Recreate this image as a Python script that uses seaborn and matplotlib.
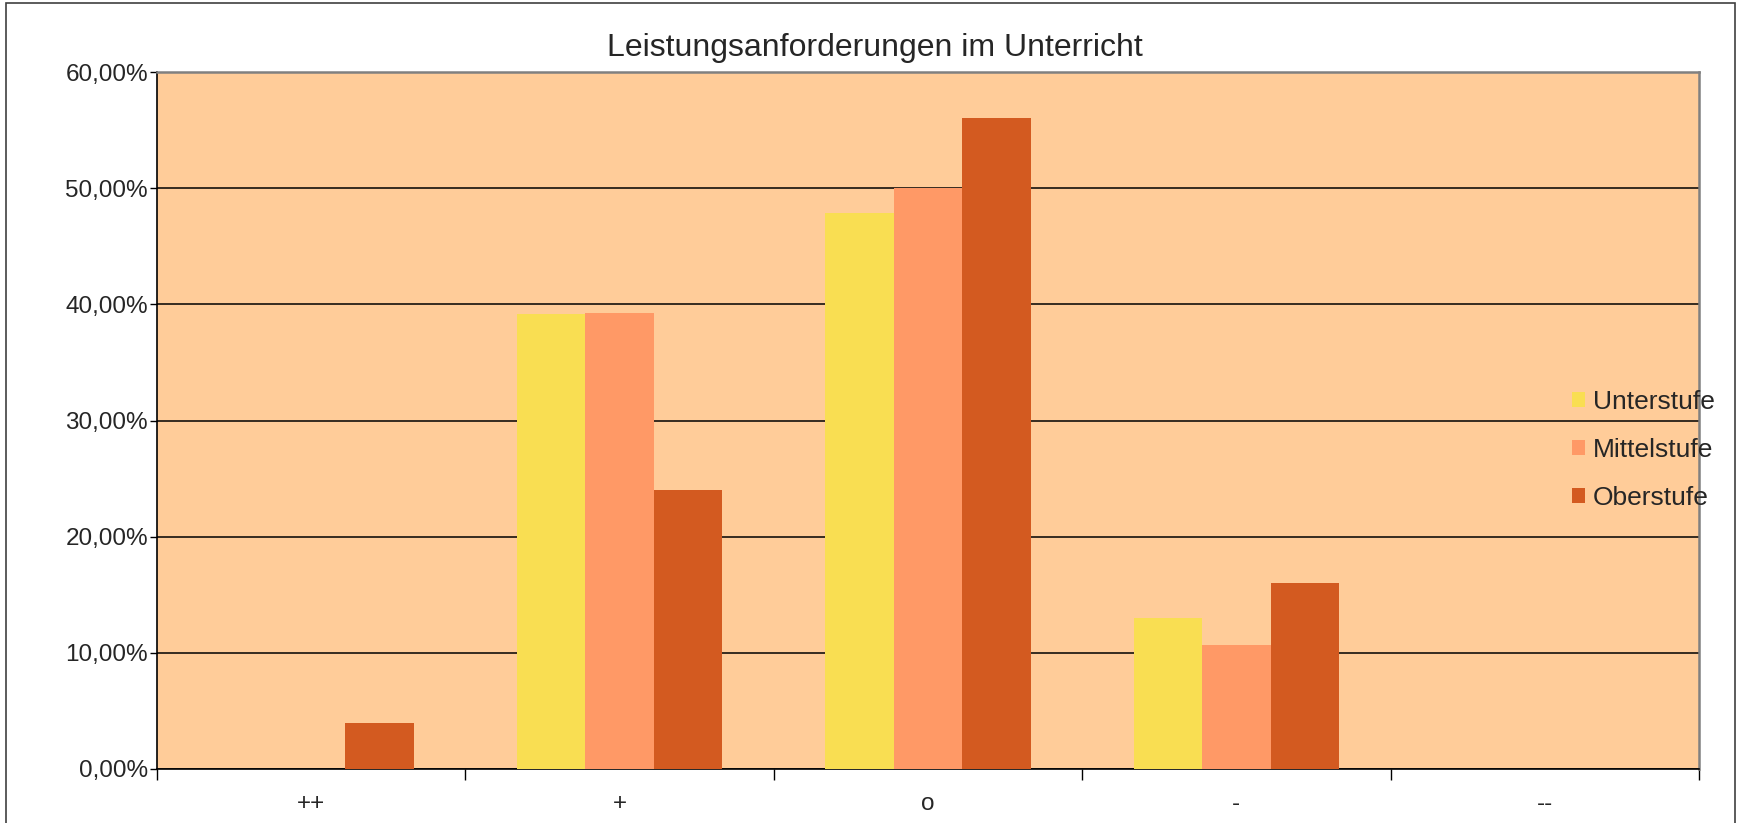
import numpy as np
import pandas as pd
import matplotlib
matplotlib.use("Agg")
import matplotlib.pyplot as plt
from matplotlib.patches import Rectangle
from matplotlib.ticker import FuncFormatter, FixedLocator
import seaborn as sns

# values (share of answers)
categories = ["++", "+", "o", "-", "--"]
stufen = ["Unterstufe", "Mittelstufe", "Oberstufe"]
unterstufe = [0.0, 0.3913, 0.4783, 0.1304, 0.0]
mittelstufe = [0.0, 0.3929, 0.5000, 0.1071, 0.0]
oberstufe = [0.04, 0.24, 0.56, 0.16, 0.0]
colors = ["#F9DE52", "#FF9966", "#D35A20"]

df = pd.DataFrame({
    "kat": categories * 3,
    "stufe": np.repeat(stufen, len(categories)),
    "wert": unterstufe + mittelstufe + oberstufe,
})

sns.set_style("white")
plt.rcParams["font.family"] = ["Liberation Sans", "DejaVu Sans"]

fig = plt.figure(figsize=(17.41, 8.23), dpi=100)
ax = fig.add_axes([157 / 1741, 1 - 769 / 823, (1699 - 157) / 1741, (769 - 72) / 823])
ax.set_facecolor("#FFCC99")

sns.barplot(data=df, x="kat", y="wert", hue="stufe", order=categories,
            hue_order=stufen, palette=colors, saturation=1, width=0.667, gap=0,
            linewidth=0, ax=ax, zorder=3)

# outer chart border
fig.patches.append(Rectangle((6 / 1741, -0.05), 1729 / 1741, 1.05 - 3 / 823,
                             transform=fig.transFigure, fill=False,
                             edgecolor="#404040", linewidth=1.2))

ax.set_ylim(0, 0.6)
ax.set_xlim(-0.5, 4.5)
ax.set_yticks(np.arange(0, 0.61, 0.1))
ax.yaxis.set_major_formatter(FuncFormatter(lambda v, p: f"{v * 100:.2f}%".replace(".", ",")))
ax.yaxis.grid(True, color="black", linewidth=1.1, zorder=1)
ax.set_axisbelow(True)

# category boundaries as ticks, labels in the middle
ax.xaxis.set_major_locator(FixedLocator(np.arange(-0.5, 5, 1)))
ax.xaxis.set_minor_locator(FixedLocator(np.arange(5)))
ax.set_xticklabels([""] * 6)
ax.set_xticklabels(categories, minor=True)
ax.tick_params(axis="x", which="major", length=8, width=1, color="black", direction="out", bottom=True)
ax.tick_params(axis="x", which="minor", length=0, pad=17, labelsize=17.5)
ax.tick_params(axis="y", length=5, width=1, color="black", direction="out", left=True, labelsize=17.5, pad=1.5)
ax.set_xlabel("")
ax.set_ylabel("")

for s in ["left", "bottom"]:
    ax.spines[s].set_color("black")
    ax.spines[s].set_linewidth(1.2)
for s in ["top", "right"]:
    ax.spines[s].set_color("#808080")
    ax.spines[s].set_linewidth(1.8)

fig.text(875 / 1741, 1 - 48 / 823, "Leistungsanforderungen im Unterricht",
         fontsize=23, ha="center", va="center")

ax.legend_.remove()
handles = [Rectangle((0, 0), 1, 1, facecolor=c, edgecolor="none") for c in colors]
fig.legend(handles, stufen, loc="center left", bbox_to_anchor=(1561 / 1741, 1 - 450 / 823),
           frameon=False, fontsize=19, handlelength=0.5, handleheight=0.5,
           handletextpad=0.3, labelspacing=0.9, borderaxespad=0)

fig.savefig("out.png", dpi=100)
